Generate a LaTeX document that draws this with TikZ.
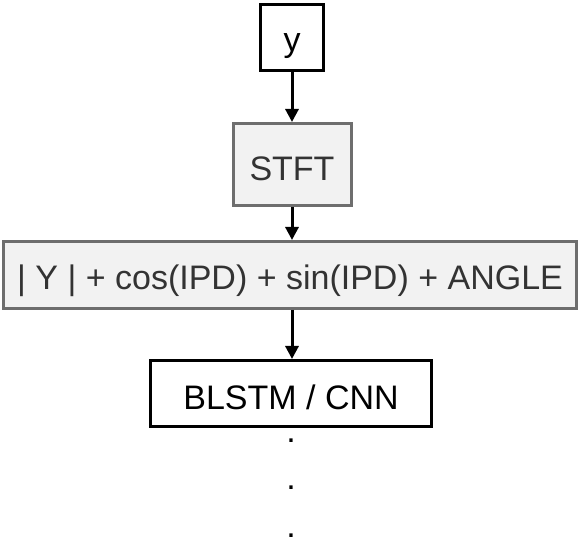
\documentclass[tikz,border=0pt]{standalone}
\usepackage{fontspec}
\setmainfont{Liberation Sans}
\usetikzlibrary{arrows.meta}
\definecolor{boxgray}{HTML}{F2F2F2}
\definecolor{edgegray}{HTML}{6E6E6E}
\definecolor{txtgray}{HTML}{333333}
\tikzset{
  plainbox/.style={rectangle,draw=black,line width=3pt,fill=white,inner sep=0pt,
    text height=32pt,text depth=0pt,font=\fontsize{34}{40}\selectfont},
  graybox/.style={rectangle,draw=edgegray,line width=3pt,fill=boxgray,inner sep=0pt,
    text height=32pt,text depth=0pt,text=txtgray,font=\fontsize{34}{40}\selectfont},
  dotmark/.style={inner sep=0pt,anchor=base,font=\fontsize{34}{40}\selectfont},
  flow/.style={-{Triangle[length=13pt,width=13pt]},line width=3pt}
}
\begin{document}
\begin{tikzpicture}[x=1pt,y=-1pt]
\useasboundingbox (0,0) rectangle (582,548);
\node[plainbox,minimum width=63pt,minimum height=66pt,text height=28pt] (y) at (292,37.5) {y};
\node[graybox,minimum width=118pt,minimum height=82pt] (stft) at (292,164.5) {STFT};
\node[graybox,minimum width=573pt,minimum height=67pt,text height=30pt] (feat) at (290,275) {| Y | + cos(IPD) + sin(IPD) + ANGLE};
\node[plainbox,minimum width=281pt,minimum height=66pt] (net) at (291,393.5) {BLSTM / CNN};
% continuation dots
\foreach \k/\yy in {1/443,2/490,3/537}
  \node[dotmark] (dot\k) at (291,\yy) {.};
\draw[flow] (y.south) -- (y.south |- stft.north);
\draw[flow] (stft.south -| y.south) -- (y.south |- feat.north);
\draw[flow] (feat.south -| y.south) -- (y.south |- net.north);
\end{tikzpicture}
\end{document}
